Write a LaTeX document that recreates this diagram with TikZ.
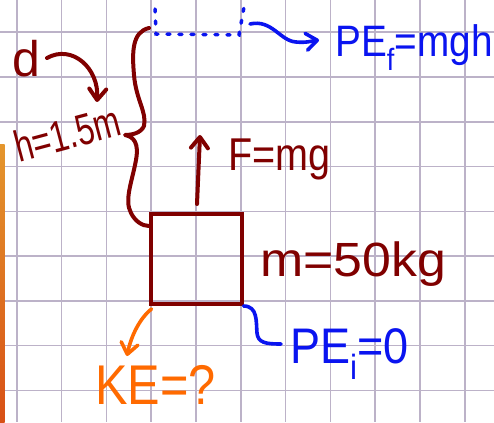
\documentclass[tikz,border=0pt]{standalone}
\usepackage{fontspec}
\setmainfont{Liberation Sans}
\usetikzlibrary{arrows.meta}
\definecolor{inkred}{RGB}{128,0,0}
\definecolor{inkblue}{RGB}{10,20,240}
\definecolor{inkorange}{RGB}{255,106,0}
\definecolor{gridc}{RGB}{188,178,200}
\definecolor{barTop}{RGB}{228,150,45}
\definecolor{barBot}{RGB}{216,80,22}
\tikzset{
  gridline/.style={gridc, line width=1.6pt},
  pen/.style={line width=4pt, line cap=round, line join=round},
  barb/.style={-{Straight Barb[length=11pt,width=17pt,round]}},
  lbl/.style={inner sep=0pt, anchor=base west},
}
\begin{document}
\begin{tikzpicture}[x=1pt,y=-1pt]
\useasboundingbox (0,0) rectangle (494,422);
\fill[white] (0,0) rectangle (494,422);
% grid
\foreach \i in {0,...,10} \draw[gridline] ({16.7+44.8*\i},0) -- ({16.7+44.8*\i},422);
\foreach \j in {0,...,8} \draw[gridline] (0,{32.3+44.75*\j}) -- (494,{32.3+44.75*\j});
% left bar
\shade[top color=barTop, bottom color=barBot] (0,144) rectangle (4.5,422);

% box
\node[draw=inkred, line width=4pt, minimum width=91pt, minimum height=90pt, inner sep=0pt] (box) at (196,259) {};

% labels
\node[lbl, inkred] (d) at (12,77) {\fontsize{50}{50}\selectfont d};
\node[lbl, inkred, rotate=15] (hlab) at (19,163) {\fontsize{40}{40}\selectfont\scalebox{0.8}[1.1]{h=1.5m}};
\node[lbl, inkred] (F) at (228,170) {\fontsize{46}{46}\selectfont\scalebox{0.86}[1]{F=mg}};
\node[lbl, inkred] (m) at (260,276) {\fontsize{48}{48}\selectfont\scalebox{1.08}[1]{m=50kg}};
\node[lbl, inkblue] (PEf) at (335,57) {\fontsize{44}{44}\selectfont\scalebox{0.88}[1]{PE\textsubscript{f}=mgh}};
\node[lbl, inkblue] (PEi) at (290,363) {\fontsize{50}{50}\selectfont\scalebox{0.9}[1]{PE\textsubscript{i}=0}};
\node[lbl, inkorange] (KE) at (95,404) {\fontsize{56}{56}\selectfont\scalebox{0.87}[1]{KE=?}};

% named points
\coordinate (dStart) at (47,58);
\coordinate (hTarget) at (97,102);
\coordinate (braceTop) at (149,28);
\coordinate (braceTip) at (125,135);
\coordinate (braceBot) at (149,226);
\coordinate (dotA) at (155,9);
\coordinate (dotB) at (156,34);
\coordinate (dotC) at (239,35);
\coordinate (dotD) at (244,7);
\coordinate (sqStart) at (250,24);
\coordinate (sqEnd) at (319,40);
\coordinate (Ftip) at (200,135);
\coordinate (Fbase) at (197,204);
\coordinate (PEiEnd) at (281,344);
\coordinate (KEtip) at (127,356);

% d -> h arrow
\draw[pen, inkred, barb] (dStart) .. controls (72,44) and (99,68) .. (hTarget);
% brace
\draw[pen, inkred] (braceTop) .. controls (132,32) and (132,52) .. (134,75)
  .. controls (136,100) and (147,112) .. (144,126)
  .. controls (141,133) and (132,135) .. (braceTip)
  .. controls (134,137) and (139,143) .. (136,160)
  .. controls (132,182) and (124,200) .. (131,213)
  .. controls (135,221) and (142,226) .. (braceBot);
% dotted final position
\draw[inkblue, line width=3.5pt, line cap=round, dash pattern=on 3pt off 9pt] (dotA) -- (dotB) -- (dotC) -- (dotD);
% squiggle to PE_f
\draw[pen, inkblue, barb, line width=3.6pt] (sqStart) .. controls (272,19) and (280,41) .. (296,42) .. controls (306,43) and (312,41) .. (sqEnd);
% force arrow
\draw[pen, inkred, barb] (Fbase) -- (Ftip);
% PE_i connector
\draw[pen, inkblue, line width=3.6pt] (box.south east) .. controls (258,306) and (256,322) .. (257,333) .. controls (258,343) and (266,344) .. (PEiEnd);
% KE arrow
\draw[pen, inkorange, barb, line width=3.6pt] ([xshift=3pt,yshift=-3pt]box.south west) .. controls (140,318) and (131,336) .. (KEtip);
\end{tikzpicture}
\end{document}
